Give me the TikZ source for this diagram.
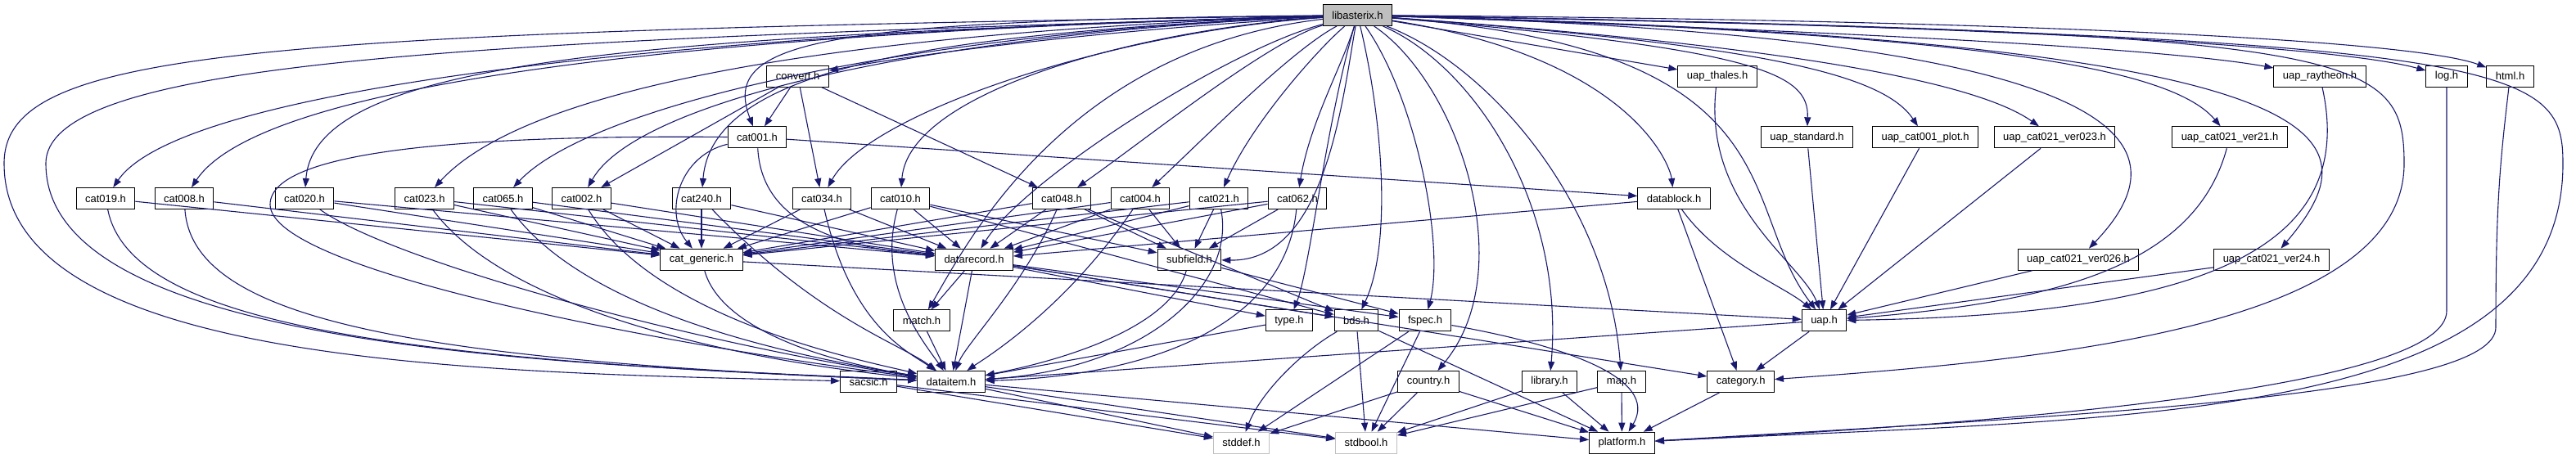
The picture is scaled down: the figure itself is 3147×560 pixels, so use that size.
\documentclass[tikz,border=0pt]{standalone}
\usepackage{fontspec}
\setmainfont{Liberation Sans}
\usetikzlibrary{arrows.meta}
\definecolor{edgeblue}{HTML}{191970}
\definecolor{nodegray}{HTML}{BFBFBF}

\begin{document}
\begin{tikzpicture}[x=1pt,y=-1pt,
  file/.style={draw=black,fill=white,line width=1pt,minimum height=26pt,inner xsep=11pt,inner ysep=0pt,font=\fontsize{13}{15}\selectfont},
  mainfile/.style={file,fill=nodegray},
  sysfile/.style={file,draw=nodegray},
  dep/.style={draw=edgeblue,line width=1.1pt,-{Triangle[length=11pt,width=8pt]}}]
\useasboundingbox (0,0) rectangle (3147,560) ;

\node[mainfile] (lib) at (1658.5,18.5) {libasterix.h} ;

\node[file] (convert) at (974.6,93.2) {convert.h} ;
\node[file] (thales) at (2098,93.2) {uap\_thales.h} ;
\node[file] (raytheon) at (2834,93.2) {uap\_raytheon.h} ;
\node[file] (log) at (2989,93.2) {log.h} ;
\node[file] (html) at (3066.5,93.2) {html.h} ;

\node[file] (cat001) at (925,167.8) {cat001.h} ;
\node[file] (uapstd) at (2207.5,167.8) {uap\_standard.h} ;
\node[file] (uapplot) at (2352,167.8) {uap\_cat001\_plot.h} ;
\node[file] (uapver023) at (2510,167.8) {uap\_cat021\_ver023.h} ;
\node[file] (uapver21) at (2724,167.8) {uap\_cat021\_ver21.h} ;

\node[file] (cat019) at (129,242.5) {cat019.h} ;
\node[file] (cat008) at (225,242.5) {cat008.h} ;
\node[file] (cat020) at (372,242.5) {cat020.h} ;
\node[file] (cat023) at (518.6,242.5) {cat023.h} ;
\node[file] (cat065) at (614.5,242.5) {cat065.h} ;
\node[file] (cat002) at (710.5,242.5) {cat002.h} ;
\node[file] (cat240) at (857,242.5) {cat240.h} ;
\node[file] (cat034) at (1004,242.5) {cat034.h} ;
\node[file] (cat010) at (1100,242.5) {cat010.h} ;
\node[file] (cat048) at (1297,242.5) {cat048.h} ;
\node[file] (cat004) at (1393,242.5) {cat004.h} ;
\node[file] (cat021) at (1489,242.5) {cat021.h} ;
\node[file] (cat062) at (1585,242.5) {cat062.h} ;
\node[file] (datablock) at (2045,242.5) {datablock.h} ;

\node[file] (catgeneric) at (857,317.2) {cat\_generic.h} ;
\node[file] (datarecord) at (1190,317.2) {datarecord.h} ;
\node[file] (subfield) at (1453,317.2) {subfield.h} ;
\node[file] (uapver026) at (2539,317.2) {uap\_cat021\_ver026.h} ;
\node[file] (uapver24) at (2775,317.2) {uap\_cat021\_ver24.h} ;

\node[file] (match) at (1126,391.8) {match.h} ;
\node[file] (type) at (1575,391.8) {type.h} ;
\node[file] (bds) at (1657,391.8) {bds.h} ;
\node[file] (fspec) at (1741,391.8) {fspec.h} ;
\node[file] (uap) at (2228.5,391.8) {uap.h} ;

\node[file] (sacsic) at (1061,466.5) {sacsic.h} ;
\node[file] (dataitem) at (1162,466.5) {dataitem.h} ;
\node[file] (country) at (1745,466.5) {country.h} ;
\node[file] (library) at (1893,466.5) {library.h} ;
\node[file] (map) at (1981,466.5) {map.h} ;
\node[file] (category) at (2126.6,466.5) {category.h} ;

\node[sysfile] (stddef) at (1516.5,541.2) {stddef.h} ;
\node[sysfile] (stdbool) at (1669,541.2) {stdbool.h} ;
\node[file] (platform) at (1981.5,541.2) {platform.h} ;

\draw[dep] (lib) .. controls (1300,40) and (1100,70) .. (convert) ;
\draw[dep] (lib) -- (thales) ;
\draw[dep] (lib) .. controls (2300,40) and (2650,60) .. (raytheon) ;
\draw[dep] (lib) .. controls (2400,30) and (2850,55) .. (log) ;
\draw[dep] (lib) .. controls (2500,25) and (2950,50) .. (html) ;
\draw[dep] (lib) .. controls (1000,25) and (880,50) .. (cat001) ;
\draw[dep] (lib) .. controls (2150,60) and (2210,90) .. (uapstd) ;
\draw[dep] (lib) .. controls (2150,55) and (2300,90) .. (uapplot) ;
\draw[dep] (lib) .. controls (2100,50) and (2400,90) .. (uapver023) ;
\draw[dep] (lib) .. controls (2400,40) and (2650,80) .. (uapver21) ;
\draw[dep] (lib) .. controls (800,40) and (220,110) .. (cat019) ;
\draw[dep] (lib) .. controls (850,40) and (320,100) .. (cat008) ;
\draw[dep] (lib) .. controls (800,45) and (385,70) .. (cat020) ;
\draw[dep] (lib) .. controls (1000,40) and (640,110) .. (cat023) ;
\draw[dep] (lib) .. controls (1100,40) and (720,130) .. (cat065) ;
\draw[dep] (lib) .. controls (1150,40) and (780,120) .. (cat002) ;
\draw[dep] (lib) .. controls (1150,40) and (870,80) .. (cat240) ;
\draw[dep] (lib) .. controls (1350,40) and (1060,140) .. (cat034) ;
\draw[dep] (lib) .. controls (1400,35) and (1110,110) .. (cat010) ;
\draw[dep] (lib) .. controls (1550,50) and (1400,170) .. (cat048) ;
\draw[dep] (lib) .. controls (1580,60) and (1480,160) .. (cat004) ;
\draw[dep] (lib) .. controls (1610,60) and (1530,150) .. (cat021) ;
\draw[dep] (lib) .. controls (1640,80) and (1600,150) .. (cat062) ;
\draw[dep] (lib) .. controls (1990,70) and (2040,200) .. (datablock) ;
\draw[dep] (lib) .. controls (2600,45) and (2680,170) .. (uapver026) ;
\draw[dep] (lib) .. controls (2900,50) and (2900,170) .. (uapver24) ;
\draw[dep] (lib) .. controls (1500,60) and (1250,220) .. (datarecord) ;
\draw[dep] (lib) .. controls (1640,120) and (1620,320) .. (subfield) ;
\draw[dep] (lib) .. controls (1300,60) and (1180,300) .. (match) ;
\draw[dep] (lib) .. controls (1620,150) and (1600,330) .. (type) ;
\draw[dep] (lib) .. controls (1690,150) and (1700,300) .. (bds) ;
\draw[dep] (lib) .. controls (1730,120) and (1765,300) .. (fspec) ;
\draw[dep] (lib) .. controls (2200,60) and (2120,250) .. (uap) ;
\draw[dep] (lib) .. controls (1780,100) and (1860,330) .. (country) ;
\draw[dep] (lib) .. controls (1800,80) and (1912,250) .. (library) ;
\draw[dep] (lib) .. controls (1820,80) and (1965,250) .. (map) ;
\draw[dep] (lib) .. controls (2880,40) and (2937,60) .. (2937,200) .. controls (2937,400) and (2500,440) .. (category) ;
\draw[dep] (lib) .. controls (3080,45) and (3131,80) .. (3131,200) .. controls (3131,520) and (2600,510) .. (platform) ;
\draw[dep] (lib) .. controls (600,50) and (56,70) .. (56,200) .. controls (56,430) and (700,445) .. (dataitem) ;
\draw[dep] (lib) .. controls (300,40) and (5,60) .. (5,200) .. controls (5,450) and (600,455) .. (sacsic) ;

\draw[dep] (convert) -- (cat001) ;
\draw[dep] (convert) -- (cat002) ;
\draw[dep] (convert) -- (cat034) ;
\draw[dep] (convert) -- (cat048) ;

\draw[dep] (cat001) .. controls (830,190) and (810,260) .. (catgeneric) ;
\draw[dep] (cat001) .. controls (930,260) and (1000,300) .. (datarecord) ;
\draw[dep] (cat001) .. controls (600,165) and (330,180) .. (330,250) .. controls (330,330) and (800,420) .. (dataitem) ;
\draw[dep] (cat001) -- (datablock) ;

\draw[dep] (cat019) -- (catgeneric) ;
\draw[dep] (cat008) -- (catgeneric) ;
\draw[dep] (cat020) -- (catgeneric) ;
\draw[dep] (cat023) -- (catgeneric) ;
\draw[dep] (cat065) -- (catgeneric) ;
\draw[dep] (cat002) -- (catgeneric) ;
\draw[dep] (cat240) -- (catgeneric) ;
\draw[dep] (cat034) -- (catgeneric) ;
\draw[dep] (cat010) -- (catgeneric) ;
\draw[dep] (cat048) -- (catgeneric) ;
\draw[dep] (cat004) -- (catgeneric) ;
\draw[dep] (cat021) -- (catgeneric) ;
\draw[dep] (cat062) -- (catgeneric) ;

\draw[dep] (cat020) -- (datarecord) ;
\draw[dep] (cat023) -- (datarecord) ;
\draw[dep] (cat065) -- (datarecord) ;
\draw[dep] (cat002) -- (datarecord) ;
\draw[dep] (cat240) -- (datarecord) ;
\draw[dep] (cat034) -- (datarecord) ;
\draw[dep] (cat010) -- (datarecord) ;
\draw[dep] (cat048) -- (datarecord) ;
\draw[dep] (cat004) -- (datarecord) ;
\draw[dep] (cat021) -- (datarecord) ;
\draw[dep] (cat062) -- (datarecord) ;
\draw[dep] (datablock) -- (datarecord) ;

\draw[dep] (cat010) -- (subfield) ;
\draw[dep] (cat048) -- (subfield) ;
\draw[dep] (cat004) -- (subfield) ;
\draw[dep] (cat021) -- (subfield) ;
\draw[dep] (cat062) -- (subfield) ;
\draw[dep] (cat010) -- (bds) ;
\draw[dep] (cat048) -- (bds) ;

\draw[dep] (cat019) .. controls (160,400) and (500,440) .. (dataitem) ;
\draw[dep] (cat008) .. controls (235,390) and (500,440) .. (dataitem) ;
\draw[dep] (cat020) .. controls (480,320) and (850,420) .. (dataitem) ;
\draw[dep] (cat023) .. controls (620,380) and (900,440) .. (dataitem) ;
\draw[dep] (cat065) .. controls (720,390) and (1000,440) .. (dataitem) ;
\draw[dep] (cat002) .. controls (800,390) and (1050,440) .. (dataitem) ;
\draw[dep] (cat240) .. controls (1000,390) and (1100,420) .. (dataitem) ;
\draw[dep] (cat034) .. controls (1040,400) and (1110,430) .. (dataitem) ;
\draw[dep] (cat010) .. controls (1070,350) and (1130,420) .. (dataitem) ;
\draw[dep] (cat048) .. controls (1250,350) and (1180,420) .. (dataitem) ;
\draw[dep] (cat004) .. controls (1300,380) and (1200,440) .. (dataitem) ;
\draw[dep] (cat021) .. controls (1510,350) and (1400,450) .. (dataitem) ;
\draw[dep] (cat062) .. controls (1570,400) and (1400,460) .. (dataitem) ;

\draw[dep] (catgeneric) .. controls (880,400) and (1000,440) .. (dataitem) ;
\draw[dep] (catgeneric) -- (uap) ;
\draw[dep] (datarecord) -- (match) ;
\draw[dep] (datarecord) -- (dataitem) ;
\draw[dep] (datarecord) -- (type) ;
\draw[dep] (datarecord) -- (bds) ;
\draw[dep] (datarecord) -- (fspec) ;
\draw[dep] (datarecord) -- (category) ;
\draw[dep] (subfield) .. controls (1430,400) and (1300,440) .. (dataitem) ;
\draw[dep] (subfield) -- (fspec) ;

\draw[dep] (datablock) .. controls (2100,320) and (2180,350) .. (uap) ;
\draw[dep] (datablock) -- (category) ;
\draw[dep] (thales) .. controls (2080,250) and (2200,320) .. (uap) ;
\draw[dep] (uapstd) -- (uap) ;
\draw[dep] (uapplot) -- (uap) ;
\draw[dep] (uapver023) -- (uap) ;
\draw[dep] (uapver21) .. controls (2680,330) and (2500,370) .. (uap) ;
\draw[dep] (raytheon) .. controls (2880,300) and (2700,385) .. (uap) ;
\draw[dep] (uapver026) -- (uap) ;
\draw[dep] (uapver24) -- (uap) ;

\draw[dep] (match) -- (dataitem) ;
\draw[dep] (type) -- (dataitem) ;
\draw[dep] (uap) -- (dataitem) ;
\draw[dep] (uap) -- (category) ;
\draw[dep] (bds) .. controls (1590,430) and (1540,480) .. (stddef) ;
\draw[dep] (bds) -- (stdbool) ;
\draw[dep] (bds) -- (platform) ;
\draw[dep] (fspec) -- (stddef) ;
\draw[dep] (fspec) -- (stdbool) ;
\draw[dep] (fspec) .. controls (1900,420) and (2030,460) .. (platform) ;

\draw[dep] (sacsic) -- (stddef) ;
\draw[dep] (sacsic) -- (stdbool) ;
\draw[dep] (dataitem) -- (stddef) ;
\draw[dep] (dataitem) -- (stdbool) ;
\draw[dep] (dataitem) -- (platform) ;
\draw[dep] (country) -- (stddef) ;
\draw[dep] (country) -- (stdbool) ;
\draw[dep] (country) -- (platform) ;
\draw[dep] (library) -- (stdbool) ;
\draw[dep] (library) -- (platform) ;
\draw[dep] (map) -- (stdbool) ;
\draw[dep] (map) -- (platform) ;
\draw[dep] (category) -- (platform) ;
\draw[dep] (log) -- (2989,380) .. controls (2989,470) and (2500,515) .. (platform) ;
\draw[dep] (html) .. controls (3054,200) and (3049,250) .. (3049,400) .. controls (3049,480) and (2600,505) .. (platform) ;
\end{tikzpicture}
\end{document}
